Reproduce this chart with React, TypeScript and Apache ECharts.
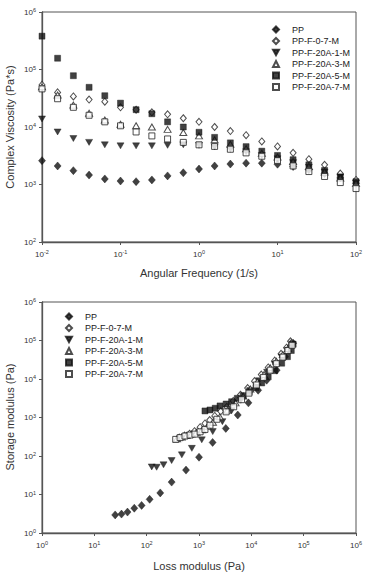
import React, { useEffect, useRef } from "react";
import * as echarts from "echarts";

// ---------- Top chart: complex viscosity vs angular frequency ----------
const frequency = [0.01, 0.0158, 0.0251, 0.0398, 0.0631, 0.1, 0.158, 0.251, 0.398, 0.631, 1, 1.58, 2.51, 3.98, 6.31, 10, 15.8, 25.1, 39.8, 63.1, 100];

const etaPP = [2600, 2100, 1740, 1460, 1250, 1150, 1120, 1200, 1410, 1600, 1860, 2100, 2270, 2350, 2350, 2250, 2050, 1800, 1550, 1300, 1050];
const etaF07 = [54000, 40000, 34000, 30000, 27500, 22000, 20000, 18000, 16600, 14200, 12300, 10000, 8500, 7200, 5600, 4600, 3550, 2750, 2200, 1550, 1200];
const etaA1 = [13800, 8200, 6300, 5400, 4900, 4700, 4700, 4700, 4800, 4900, 4800, 4500, 4100, 3700, 3200, 2800, 2400, 2000, 1650, 1350, 1050];
const etaA3 = [50000, 36000, 24000, 17400, 13200, 11200, 10500, 10000, 9100, 8000, 7000, 6000, 5000, 4200, 3500, 3000, 2500, 2050, 1650, 1300, 1050];
const etaA5 = [380000, 157000, 78000, 49000, 35000, 26000, 20000, 17000, 12300, 10000, 8100, 6600, 5300, 4560, 3800, 3200, 2700, 2200, 1760, 1350, 1120];
const etaA7 = [46000, 31000, 22000, 16000, 12300, 10500, 8200, 7000, 6200, 5400, 4900, 4600, 4100, 3550, 3100, 2600, 2100, 1680, 1380, 1080, 850];

// ---------- Bottom chart: storage modulus vs loss modulus ----------
const gPP = [[25, 2.95], [33, 3.1], [43, 3.5], [58, 4.4], [80, 5.2], [114, 7.5], [182, 11], [300, 21], [565, 43], [1000, 93], [1820, 225], [3250, 520], [5500, 1160], [8800, 2400], [13500, 5100], [19600, 9300], [30500, 17000], [44000, 38000], [63000, 85000]];
const gA1 = [[125, 52], [155, 51], [210, 59], [300, 76], [470, 107], [730, 158], [1130, 263], [1830, 430], [2800, 780], [4200, 1500], [6300, 2800], [9500, 5000], [14000, 9000], [20000, 15000], [28000, 24000], [38000, 37000], [50000, 55000], [60000, 80000]];
const gA5 = [[1300, 1480], [1620, 1570], [2040, 1740], [2520, 2000], [3300, 2240], [4200, 2570], [5400, 3150], [7000, 3700], [9100, 4700], [12300, 6000], [15800, 7900], [21000, 11400], [28000, 16500], [38000, 25700], [49000, 38000], [58000, 55000], [63000, 80000]];
const gA7 = [[359, 270], [435, 300], [540, 330], [675, 350], [835, 370], [1050, 425], [1300, 490], [1620, 630], [2200, 900], [3300, 1400], [4600, 1900], [6500, 2900], [9000, 4300], [12500, 7000], [17000, 11000], [23000, 17000], [30000, 25000], [40000, 37000], [50000, 55000], [60000, 75000]];
const gF07 = [[420, 300], [530, 340], [660, 380], [820, 440], [1050, 560], [1300, 700], [1600, 860], [2000, 1100], [2600, 1450], [3400, 1900], [4500, 2700], [6200, 3900], [8500, 5800], [11500, 8800], [15500, 13000], [21000, 20000], [28000, 30000], [37000, 45000], [47000, 65000], [56000, 95000]];
const gA3 = [[380, 280], [470, 310], [580, 340], [720, 370], [900, 410], [1150, 480], [1450, 580], [1850, 750], [2500, 1050], [3500, 1550], [5000, 2400], [7000, 3600], [9600, 5500], [13000, 8500], [17500, 13000], [23000, 19500], [30000, 29000], [40000, 43000], [50000, 62000], [58000, 88000]];

const seriesNames = ["PP", "PP-F-0-7-M", "PP-F-20A-1-M", "PP-F-20A-3-M", "PP-F-20A-5-M", "PP-F-20A-7-M"];
const topTitleX = "Angular Frequency (1/s)";
const topTitleY = "Complex Viscosity (Pa*s)";
const botTitleX = "Loss modulus (Pa)";
const botTitleY = "Storage modulus (Pa)";

const FONT = "'Liberation Sans', Arial, sans-serif";
const DOWN_TRI = "path://M0,0 L10,0 L5,9 Z";

const markerStyles = [
  { symbol: "diamond", symbolSize: [7, 8], itemStyle: { color: "#111", borderColor: "#111", borderWidth: 0.5 } },
  { symbol: "diamond", symbolSize: [6, 7], itemStyle: { color: "#fff", borderColor: "#222", borderWidth: 1 } },
  { symbol: DOWN_TRI, symbolSize: [7, 6], itemStyle: { color: "#111", borderColor: "#111", borderWidth: 0.5 } },
  { symbol: "triangle", symbolSize: [7, 6], itemStyle: { color: "#fff", borderColor: "#222", borderWidth: 1 } },
  { symbol: "rect", symbolSize: [6, 6], itemStyle: { color: "#111", borderColor: "#111", borderWidth: 0.5 } },
  { symbol: "rect", symbolSize: [6, 6], itemStyle: { color: "#fff", borderColor: "#222", borderWidth: 1 } },
];

function powLabel(v: number) {
  const e = Math.round(Math.log10(v));
  return `{b|10}{s|${e}}`;
}

const labelRich = {
  b: { fontSize: 8, fontFamily: FONT, color: "#333", lineHeight: 10 },
  s: { fontSize: 5.5, fontFamily: FONT, color: "#333", lineHeight: 10, verticalAlign: "top", padding: [0, 0, 3, 0] },
};

function logAxis(gridIndex: number, min: number, max: number, isX: boolean) {
  return {
    type: "log",
    logBase: 10,
    gridIndex,
    min,
    max,
    axisLine: { show: true, lineStyle: { color: "#555", width: 1.3 } },
    axisTick: { show: true, inside: false, length: 3, lineStyle: { color: "#555" } },
    minorTick: { show: false },
    splitLine: { show: false },
    axisLabel: {
      formatter: powLabel,
      rich: labelRich,
      margin: isX ? 7 : 6,
    },
  };
}

export default function App() {
  const ref = useRef<HTMLDivElement>(null);
  useEffect(() => {
    document.body.style.margin = "0";
    if (!ref.current) return;
    const chart = echarts.init(ref.current, null, { renderer: "svg" });

    const topData = [etaPP, etaF07, etaA1, etaA3, etaA5, etaA7];
    const botData = [gPP, gF07, gA1, gA3, gA5, gA7];

    const series: any[] = [];
    seriesNames.forEach((name, i) => {
      series.push({
        type: "scatter",
        name,
        xAxisIndex: 0,
        yAxisIndex: 0,
        data: frequency.map((f, j) => [f, topData[i][j]]),
        ...markerStyles[i],
      });
    });
    seriesNames.forEach((name, i) => {
      series.push({
        type: "scatter",
        name,
        xAxisIndex: 1,
        yAxisIndex: 1,
        data: botData[i],
        ...markerStyles[i],
      });
    });

    const legendBase = {
      orient: "vertical",
      data: seriesNames,
      itemWidth: 6,
      itemHeight: 6,
      itemGap: 2.5,
      textStyle: { fontSize: 9, fontFamily: FONT, color: "#222", padding: [0, 0, 0, 8] },
      selectedMode: false,
    };

    chart.setOption({
      animation: false,
      backgroundColor: "#fff",
      grid: [
        { left: 42, top: 12, width: 314, height: 230, show: true, borderColor: "#555", borderWidth: 1, backgroundColor: "transparent" },
        { left: 42, top: 302, width: 314, height: 231, show: true, borderColor: "#555", borderWidth: 1, backgroundColor: "transparent" },
      ],
      xAxis: [logAxis(0, 0.01, 100, true), logAxis(1, 1, 1e6, true)],
      yAxis: [logAxis(0, 100, 1e6, false), logAxis(1, 1, 1e6, false)],
      legend: [
        { ...legendBase, left: 267, top: 20 },
        { ...legendBase, left: 60, top: 307 },
      ],
      graphic: [
        { type: "text", x: 199, y: 267, style: { text: topTitleX, fontSize: 11, fontFamily: FONT, fill: "#333", textAlign: "center" } },
        { type: "text", x: 199, y: 560, style: { text: botTitleX, fontSize: 11, fontFamily: FONT, fill: "#333", textAlign: "center" } },
        { type: "text", x: 4, y: 127, rotation: Math.PI / 2, style: { text: topTitleY, fontSize: 11, fontFamily: FONT, fill: "#333", textAlign: "center", textVerticalAlign: "top" } },
        { type: "text", x: 4, y: 417, rotation: Math.PI / 2, style: { text: botTitleY, fontSize: 11, fontFamily: FONT, fill: "#333", textAlign: "center", textVerticalAlign: "top" } },
      ],
      series,
    });
    return () => chart.dispose();
  }, []);
  return <div ref={ref} style={{ width: 365, height: 572 }} />;
}
